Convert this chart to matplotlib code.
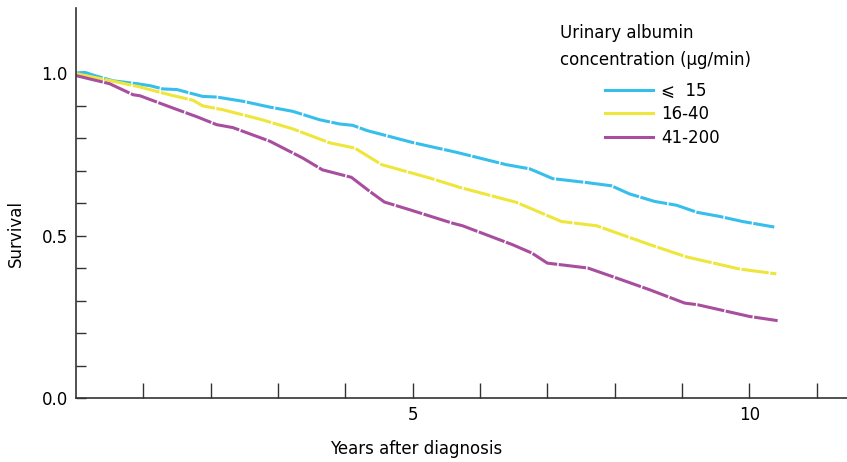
import matplotlib
matplotlib.use("Agg")
import matplotlib.pyplot as plt
from matplotlib.lines import Line2D
from matplotlib.ticker import FixedLocator

plt.rcParams['font.family'] = ['DejaVu Sans', 'Noto Sans CJK SC']

# Kaplan-Meier style survival by urinary albumin concentration group
years_low = [0.00, 0.13, 0.28, 0.55, 0.91, 1.10, 1.29, 1.50, 1.88, 2.09, 2.48, 2.88,
             3.22, 3.62, 3.92, 4.11, 4.32, 5.00, 5.65, 6.39, 6.74, 7.08, 7.58, 7.95,
             8.22, 8.59, 8.92, 9.23, 9.55, 9.90, 10.37]
surv_low = [1.000, 1.002, 0.992, 0.976, 0.967, 0.961, 0.951, 0.949, 0.928, 0.926, 0.913, 0.895,
            0.882, 0.856, 0.843, 0.839, 0.823, 0.786, 0.756, 0.718, 0.705, 0.675, 0.663, 0.653,
            0.628, 0.605, 0.593, 0.571, 0.559, 0.543, 0.526]

years_mid = [0.00, 0.50, 0.91, 1.39, 1.74, 1.88, 2.18, 2.73, 3.22, 3.77, 4.14, 4.54,
             5.25, 5.70, 6.54, 7.21, 7.73, 8.52, 9.07, 9.85, 10.40]
surv_mid = [0.998, 0.977, 0.959, 0.933, 0.916, 0.899, 0.887, 0.858, 0.828, 0.785, 0.769, 0.718,
            0.677, 0.648, 0.602, 0.543, 0.530, 0.472, 0.434, 0.397, 0.382]

years_high = [0.00, 0.50, 0.85, 0.95, 1.39, 1.80, 2.09, 2.33, 2.88, 3.37, 3.66, 4.09,
              4.36, 4.58, 4.96, 5.59, 5.74, 6.48, 6.77, 7.00, 7.60, 8.03, 8.52, 9.04,
              9.23, 10.00, 10.42]
surv_high = [0.992, 0.967, 0.933, 0.930, 0.896, 0.865, 0.841, 0.832, 0.790, 0.738, 0.702, 0.679,
             0.636, 0.603, 0.579, 0.538, 0.530, 0.472, 0.446, 0.415, 0.400, 0.369, 0.333, 0.292,
             0.287, 0.251, 0.238]

group_labels = ["\u2a7d  15", "16-40", "41-200"]
group_colors = ["#36BEEC", "#EEE63A", "#A84E9F"]
legend_title = "Urinary albumin\nconcentration (\u03bcg/min)"

y_major = [0.0, 0.5, 1.0]
y_major_labels = ["0.0", "0.5", "1.0"]
y_minor = [0.1, 0.2, 0.3, 0.4, 0.6, 0.7, 0.8, 0.9]
x_major = [5, 10]
x_major_labels = ["5", "10"]
x_minor = [1, 2, 3, 4, 6, 7, 8, 9, 11]

fig = plt.figure(figsize=(8.47, 4.62), dpi=100)
ax = fig.add_axes([76 / 847, 1 - 398 / 462, 1 - 76 / 847, (398 - 8) / 462])

series = [(years_low, surv_low), (years_mid, surv_mid), (years_high, surv_high)]
for (xs, ys), col in zip(series, group_colors):
    ax.plot(xs, ys, color=col, lw=2.2, solid_capstyle='butt',
            linestyle=(0, (9, 0.5)))

ax.set_xlim(0, 11.45)
ax.set_ylim(0, 1.2)

for side in ("top", "right"):
    ax.spines[side].set_visible(False)
for side in ("left", "bottom"):
    ax.spines[side].set_color("#333333")
    ax.spines[side].set_linewidth(1.2)

ax.xaxis.set_major_locator(FixedLocator(x_major))
ax.set_xticklabels(x_major_labels)
ax.xaxis.set_minor_locator(FixedLocator(x_minor))
ax.yaxis.set_major_locator(FixedLocator(y_major))
ax.set_yticklabels(y_major_labels)
ax.yaxis.set_minor_locator(FixedLocator(y_minor))

ax.tick_params(axis='x', which='both', direction='in', length=11, width=1,
               color="#333333", labelsize=12, pad=6)
ax.tick_params(axis='y', which='both', direction='in', length=7, width=1,
               color="#333333", labelsize=12, pad=6)

ax.set_xlabel("Years after diagnosis", fontsize=12)
ax.set_ylabel("Survival", fontsize=12)
ax.xaxis.set_label_coords(0.441, -0.108)
ax.yaxis.set_label_coords(-0.066, 0.423)

fig.text(560 / 847, 1 - 24 / 462, legend_title, fontsize=12, ha='left', va='top',
         linespacing=1.65)

handles = [Line2D([0], [0], color=c, lw=2.2) for c in group_colors]
leg = ax.legend(handles, group_labels, frameon=False, fontsize=12,
                loc='upper left', bbox_to_anchor=(598 / 847, 1 - 75 / 462),
                bbox_transform=fig.transFigure, handlelength=2.9,
                handletextpad=0.5, labelspacing=0.33, borderaxespad=0)

fig.savefig("out.png", dpi=100)
